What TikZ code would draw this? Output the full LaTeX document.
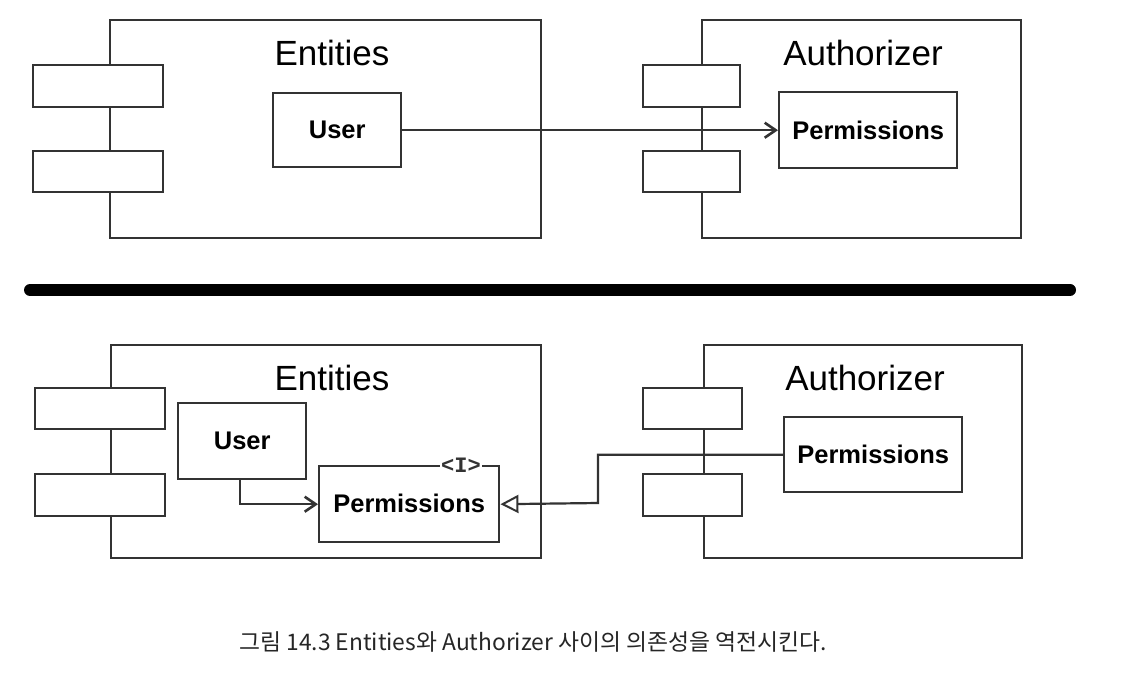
\documentclass[tikz,border=0pt]{standalone}
\usepackage{fontspec}
\setmainfont{Liberation Sans}
\newfontfamily\krfont{Noto Sans CJK KR}
\newfontfamily\monofont{Liberation Mono}
\usetikzlibrary{arrows.meta}
\definecolor{ln}{HTML}{333333}
\begin{document}
\begin{tikzpicture}[x=1pt,y=-1pt,
  box/.style={draw=ln,line width=2.4pt,fill=white},
  title/.style={font=\fontsize{35}{40}\selectfont,text=black,inner sep=0pt},
  lbl/.style={font=\bfseries\fontsize{25.5}{28}\selectfont,text=black,inner sep=0pt},
  conn/.style={draw=ln,line width=2.2pt},
  barb/.style={-{Straight Barb[length=11pt,width=15pt,line width=2.6pt]}},
  otri/.style={-{Triangle[open,length=18pt,width=18pt,line width=2pt]}}]
\useasboundingbox (0,0) rectangle (1134,672);
\fill[white] (0,0) rectangle (1134,672);
% ---------- top ----------
\draw[box] (110,20) rectangle (541,238);
\draw[box] (33,65) rectangle (163,107);
\draw[box] (33,151) rectangle (163,192);
\node[title] (entT) at (332,53) {Entities};
\node[box,minimum width=128pt,minimum height=74pt,anchor=north west] (userT) at (272,92) {};
\node[lbl] at (userT) {User};
\draw[box] (702,20) rectangle (1021,238);
\draw[box] (643,65) rectangle (740,107);
\draw[box] (643,151) rectangle (740,192);
\node[title] (autT) at (863,53) {Authorizer};
\node[box,minimum width=178pt,minimum height=76pt,anchor=north west] (permT) at (778,91) {};
\node[lbl] at (permT) {Permissions};
\draw[conn,barb] (userT.east) -- (permT.west);
% ---------- separator ----------
\coordinate (sepL) at (30,290);
\coordinate (sepR) at (1070,290);
\draw[line width=12pt,line cap=round,black] (sepL) -- (sepR);
% ---------- bottom ----------
\draw[box] (111,345) rectangle (541,558);
\draw[box] (35,388) rectangle (165,429);
\draw[box] (35,474) rectangle (165,516);
\node[title] (entB) at (332,378) {Entities};
\node[box,minimum width=128pt,minimum height=76pt,anchor=north west] (userB) at (177,402) {};
\node[lbl] at (userB) {User};
\node[box,minimum width=180pt,minimum height=76pt,anchor=north west] (permI) at (318,465) {};
\node[lbl] at ([yshift=1pt]permI.center) {Permissions};
\node[fill=white,inner sep=1pt,font=\monofont\bfseries\fontsize{22}{24}\selectfont,text=ln] (iface) at (461,465) {<I>};
\draw[box] (704,345) rectangle (1022,558);
\draw[box] (643,388) rectangle (742,429);
\draw[box] (643,474) rectangle (742,516);
\node[title] (autB) at (865,378) {Authorizer};
\node[box,minimum width=178pt,minimum height=75pt,anchor=north west] (permB) at (783,416) {};
\node[lbl] at (permB) {Permissions};
\draw[conn,barb] (240,478) |- (permI.west);
\draw[conn,otri] (permB.west) -| (598,503) -- (permI.east);
% ---------- caption ----------
\node[font=\krfont\fontsize{22.8}{26}\selectfont,text=black!85,inner sep=0pt] (cap) at (533,642) {그림 14.3 Entities와 Authorizer 사이의 의존성을 역전시킨다.};
\end{tikzpicture}
\end{document}
